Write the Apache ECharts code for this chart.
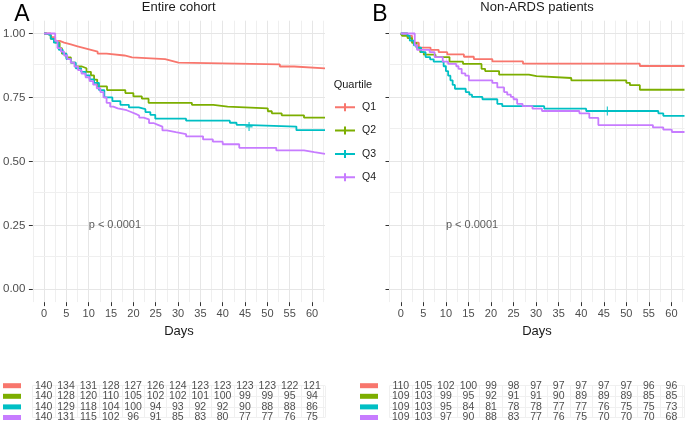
<!DOCTYPE html>
<html><head><meta charset="utf-8">
<script src="https://cdn.jsdelivr.net/npm/echarts@6/dist/echarts.min.js"></script>
<style>html,body{margin:0;padding:0;background:#fff}#c{width:685px;height:425px}</style>
</head><body><div id="c"></div>
<script>
// ---- data ----
const quartiles = ['Q1', 'Q2', 'Q3', 'Q4'];
const colors = ['#F8766D', '#7CAE00', '#00BFC4', '#C77CFF'];
const dayTicks = [0, 5, 10, 15, 20, 25, 30, 35, 40, 45, 50, 55, 60];
const yTicks = [0, 0.25, 0.5, 0.75, 1];
const gridXLines = [-2.5, 0, 2.5, 5, 7.5, 10, 12.5, 15, 17.5, 20, 22.5, 25, 27.5, 30, 32.5, 35, 37.5, 40, 42.5, 45, 47.5, 50, 52.5, 55, 57.5, 60, 62.5];
const gridYLines = [0, 0.125, 0.25, 0.375, 0.5, 0.625, 0.75, 0.875, 1];
const pText = 'p < 0.0001';
const pPos = [10, 0.25];

// Panel A: Entire cohort (survival steps [day, S])
const cohortQ1 = [[0,1],[1.5,0.986],[2.5,0.971],[3.5,0.964],[4.5,0.957],[6,0.95],[7.5,0.943],[9,0.936],[10.5,0.929],[12,0.921],[14,0.914],[18,0.907],[19.7,0.9],[27.1,0.893],[28.6,0.886],[30.1,0.879],[52.8,0.871],[56,0.864],[62.9,0.864]];
const cohortQ2 = [[0,1],[0.5,0.993],[1.5,0.979],[2.5,0.964],[3.5,0.943],[4,0.921],[5,0.907],[6,0.886],[7,0.871],[8.5,0.864],[9.5,0.85],[10.5,0.836],[11.2,0.82],[11.9,0.793],[14.1,0.779],[18.2,0.767],[20,0.754],[21.9,0.745],[23.4,0.729],[33.1,0.721],[37.9,0.714],[41.1,0.707],[50.1,0.696],[51,0.688],[53.2,0.68],[58.2,0.671],[62.9,0.671]];
const cohortQ3 = [[0,1],[0.5,0.993],[1.5,0.979],[2.2,0.964],[3.3,0.936],[4.2,0.921],[5,0.9],[6,0.886],[7.1,0.864],[8.3,0.85],[9.3,0.836],[10.2,0.821],[11.2,0.807],[12.3,0.779],[13.5,0.75],[15.3,0.736],[17.1,0.721],[19,0.711],[21.2,0.704],[22.7,0.693],[23.8,0.682],[24.9,0.667],[31.8,0.659],[41.6,0.651],[43.1,0.643],[44.6,0.636],[56.5,0.622],[62.9,0.622]];
const cohortQ4 = [[0,1],[2.5,0.971],[3,0.943],[3.8,0.929],[4.5,0.914],[5.2,0.9],[6,0.886],[6.8,0.871],[7.6,0.857],[8.4,0.843],[9.3,0.829],[10.2,0.814],[11,0.8],[11.8,0.786],[12.6,0.771],[13.3,0.75],[14,0.729],[14.8,0.714],[15.5,0.707],[16.5,0.7],[18.5,0.693],[19.5,0.686],[20.5,0.679],[21.3,0.671],[22.3,0.664],[23.5,0.65],[24.5,0.643],[25.5,0.636],[26.5,0.621],[27.5,0.614],[29.5,0.607],[31.8,0.598],[35.6,0.586],[37.8,0.577],[40,0.567],[43.7,0.553],[52,0.543],[58.2,0.536],[60.5,0.529],[62.9,0.529]];
const cohortCensorQ3 = [[45.9, 0.636]];

// Panel B: Non-ARDS patients
const nonArdsQ1 = [[0,1],[1.5,0.991],[2.5,0.973],[2.9,0.964],[4,0.945],[6.6,0.936],[8.4,0.927],[10.3,0.918],[14,0.909],[16.2,0.9],[20.3,0.891],[27.1,0.882],[53,0.873],[62.9,0.873]];
const nonArdsQ2 = [[0,1],[0.3,0.991],[1.5,0.982],[2.5,0.963],[3.5,0.945],[4.3,0.927],[5.1,0.917],[7.7,0.908],[10.8,0.89],[13.8,0.881],[17.9,0.862],[18.7,0.853],[21.8,0.839],[28.4,0.833],[30.1,0.826],[37.8,0.817],[50,0.807],[50.8,0.798],[53,0.78],[62.9,0.78]];
const nonArdsQ3 = [[0,1],[1.5,0.991],[2,0.972],[2.9,0.954],[3.5,0.945],[4.5,0.927],[5.5,0.908],[6.5,0.899],[7.3,0.89],[9.5,0.872],[10,0.853],[10.5,0.835],[11,0.817],[11.5,0.799],[12,0.784],[14.4,0.771],[15.2,0.761],[15.8,0.752],[18.1,0.743],[21.4,0.725],[22.5,0.716],[31.8,0.706],[41.1,0.697],[57.1,0.688],[58.2,0.678],[62.9,0.678]];
const nonArdsQ4 = [[0,1],[3.1,0.954],[3.6,0.936],[6.4,0.927],[7.5,0.908],[9.3,0.89],[10.5,0.881],[12.3,0.872],[12.8,0.862],[13.5,0.844],[14.3,0.835],[15.1,0.817],[20.3,0.807],[21.4,0.789],[22.9,0.771],[23.6,0.761],[24.4,0.752],[25,0.743],[25.8,0.725],[27,0.716],[29.2,0.706],[31.3,0.697],[39.6,0.688],[41.8,0.67],[43.8,0.642],[55.9,0.633],[58.2,0.624],[60.1,0.615],[62.9,0.615]];
const nonArdsCensorQ3 = [[45.8, 0.697]];

// Numbers at risk (at dayTicks)
const riskCohortQ1 = [140,134,131,128,127,126,124,123,123,123,123,122,121];
const riskCohortQ2 = [140,128,120,110,105,102,102,101,100,99,99,95,94];
const riskCohortQ3 = [140,129,118,104,100,94,93,92,92,90,88,88,86];
const riskCohortQ4 = [140,131,115,102,96,91,85,83,80,77,77,76,75];
const riskNonArdsQ1 = [110,105,102,100,99,98,97,97,97,97,97,96,96];
const riskNonArdsQ2 = [109,103,99,95,92,91,91,90,89,89,89,85,85];
const riskNonArdsQ3 = [109,103,95,84,81,78,78,77,77,76,75,75,73];
const riskNonArdsQ4 = [109,103,97,90,88,83,77,76,75,70,70,70,68];

// ---- build ----
const FONT = 'Liberation Sans, Arial, sans-serif';
const xMin = -2.5, xMax = 62.9;
const crossIcon = 'path://M0,3 L20,3 L20,5 L0,5 Z M9,0 L11,0 L11,8 L9,8 Z';
const censorSymbol = 'path://M0,4.1 L10,4.1 L10,5.9 L0,5.9 Z M4.1,0 L5.9,0 L5.9,10 L4.1,10 Z';
const MAJOR = '#E6E6E6', MINOR = '#EFEFEF';

const panels = [
  {curves: [cohortQ1, cohortQ2, cohortQ3, cohortQ4], censor: cohortCensorQ3,
   risk: [riskCohortQ1, riskCohortQ2, riskCohortQ3, riskCohortQ4], left: 32.5, width: 292.5, yLabels: true},
  {curves: [nonArdsQ1, nonArdsQ2, nonArdsQ3, nonArdsQ4], censor: nonArdsCensorQ3,
   risk: [riskNonArdsQ1, riskNonArdsQ2, riskNonArdsQ3, riskNonArdsQ4], left: 389.5, width: 295, yLabels: false}
];

const grid = [], xAxis = [], yAxis = [], series = [];
panels.forEach((p, k) => {
  const gi = grid.length;
  grid.push({left: p.left, width: p.width, top: 20.7, height: 281.4});
  xAxis.push({gridIndex: gi, type: 'value', min: xMin, max: xMax,
    splitLine: {show: false},
    axisLine: {show: true, onZero: false, lineStyle: {color: 'rgba(0,0,0,0)'}},
    axisTick: {show: true, customValues: dayTicks, length: 4, lineStyle: {color: '#333', width: 1}},
    axisLabel: {show: true, customValues: dayTicks, color: '#4d4d4d', fontSize: 11, margin: 6.5, fontFamily: FONT},
    name: 'Days', nameLocation: 'middle', nameGap: 22,
    nameTextStyle: {fontSize: 13, color: '#1a1a1a', fontFamily: FONT}});
  yAxis.push({gridIndex: gi, type: 'value', min: -0.05, max: 1.05,
    splitLine: {show: false},
    axisLine: {show: true, onZero: false, lineStyle: {color: 'rgba(0,0,0,0)'}},
    axisTick: {show: true, customValues: yTicks, length: 4, lineStyle: {color: '#333', width: 1}},
    axisLabel: {show: p.yLabels, customValues: yTicks, color: '#4d4d4d', fontSize: 11.5, margin: 7.5,
      fontFamily: FONT, formatter: v => Number(v).toFixed(2)}});
  // gridlines
  series.push({type: 'line', name: 'gridlines', xAxisIndex: gi, yAxisIndex: gi, data: [[xMin, -0.05]], symbol: 'none',
    lineStyle: {opacity: 0}, silent: true, z: 1,
    markLine: {silent: true, symbol: ['none', 'none'], label: {show: false}, animation: false, z: 1,
      data: gridXLines.map(v => ({xAxis: v, lineStyle: {type: 'solid', color: (v % 5 === 0) ? MAJOR : MINOR, width: 1}}))
        .concat(gridYLines.map(v => ({yAxis: v, lineStyle: {type: 'solid', color: (Math.round(v * 1000) % 250 === 0) ? MAJOR : MINOR, width: 1}})))}});
  p.curves.forEach((c, i) => {
    series.push({type: 'line', name: quartiles[i], xAxisIndex: gi, yAxisIndex: gi, data: c, step: 'end',
      symbol: 'none', color: colors[i], lineStyle: {width: 1.8, color: colors[i]}, z: 10, silent: true});
  });
  series.push({type: 'scatter', name: 'censor', xAxisIndex: gi, yAxisIndex: gi, data: p.censor,
    symbol: censorSymbol, symbolSize: [7, 9], itemStyle: {color: colors[2]}, z: 11, silent: true});
  series.push({type: 'scatter', name: 'pval', xAxisIndex: gi, yAxisIndex: gi, data: [pPos], symbolSize: 1,
    itemStyle: {color: 'rgba(0,0,0,0)'}, silent: true, z: 12,
    label: {show: true, position: 'inside', align: 'left', formatter: pText, fontSize: 11, color: '#333', fontFamily: FONT}});

  // risk table
  const ti = grid.length;
  grid.push({left: p.left, width: p.width, top: 385.7, height: 31.8});
  xAxis.push({gridIndex: ti, type: 'value', min: xMin, max: xMax, interval: 2.5,
    axisLine: {show: false}, axisTick: {show: false}, axisLabel: {show: false},
    splitLine: {show: true, lineStyle: {color: '#F0F0F0', width: 1}}});
  const rich = {};
  quartiles.forEach((q, i) => { rich[q] = {backgroundColor: colors[i], width: 18, height: 5, lineHeight: 5}; });
  yAxis.push({gridIndex: ti, type: 'category', data: quartiles, inverse: true, boundaryGap: false,
    axisLine: {show: false}, axisTick: {show: false},
    splitLine: {show: true, interval: 0, lineStyle: {color: '#F0F0F0', width: 1}},
    axisLabel: {show: true, interval: 0, margin: 11.5, formatter: v => '{' + v + '| }', rich: rich}});
  const tableData = [];
  p.risk.forEach((arr, r) => arr.forEach((n, j) => tableData.push([dayTicks[j], r, n])));
  series.push({type: 'scatter', name: 'risk', xAxisIndex: ti, yAxisIndex: ti, data: tableData, symbolSize: 1,
    itemStyle: {color: 'rgba(0,0,0,0)'}, silent: true,
    label: {show: true, position: 'inside', formatter: q => String(q.value[2]), fontSize: 10.5, color: '#1a1a1a', fontFamily: FONT}});
});

const chart = echarts.init(document.getElementById('c'), null, {renderer: 'canvas'});
chart.setOption({
  animation: false,
  backgroundColor: '#ffffff',
  textStyle: {fontFamily: FONT},
  grid: grid, xAxis: xAxis, yAxis: yAxis, series: series,
  legend: {data: quartiles.map(q => ({name: q, icon: crossIcon})), orient: 'vertical', padding: 0,
    left: 335, top: 101.3, itemWidth: 20, itemHeight: 8, itemGap: 11.3, selectedMode: false,
    textStyle: {fontSize: 10.5, color: '#1a1a1a', padding: [0, 0, 0, 2], lineHeight: 12, fontFamily: FONT}},
  graphic: [
    {type: 'text', x: 22, y: 15, style: {text: 'A', fontSize: 23, fill: '#000', align: 'center', verticalAlign: 'middle', fontFamily: FONT}},
    {type: 'text', x: 380, y: 15, style: {text: 'B', fontSize: 23, fill: '#000', align: 'center', verticalAlign: 'middle', fontFamily: FONT}},
    {type: 'text', x: 178.7, y: 7.5, style: {text: 'Entire cohort', fontSize: 13, fill: '#1a1a1a', align: 'center', verticalAlign: 'middle', fontFamily: FONT}},
    {type: 'text', x: 537, y: 7.5, style: {text: 'Non-ARDS patients', fontSize: 13, fill: '#1a1a1a', align: 'center', verticalAlign: 'middle', fontFamily: FONT}},
    {type: 'text', x: 333.7, y: 85, style: {text: 'Quartile', fontSize: 11, fill: '#1a1a1a', align: 'left', verticalAlign: 'middle', fontFamily: FONT}}
  ]
});
</script></body></html>
